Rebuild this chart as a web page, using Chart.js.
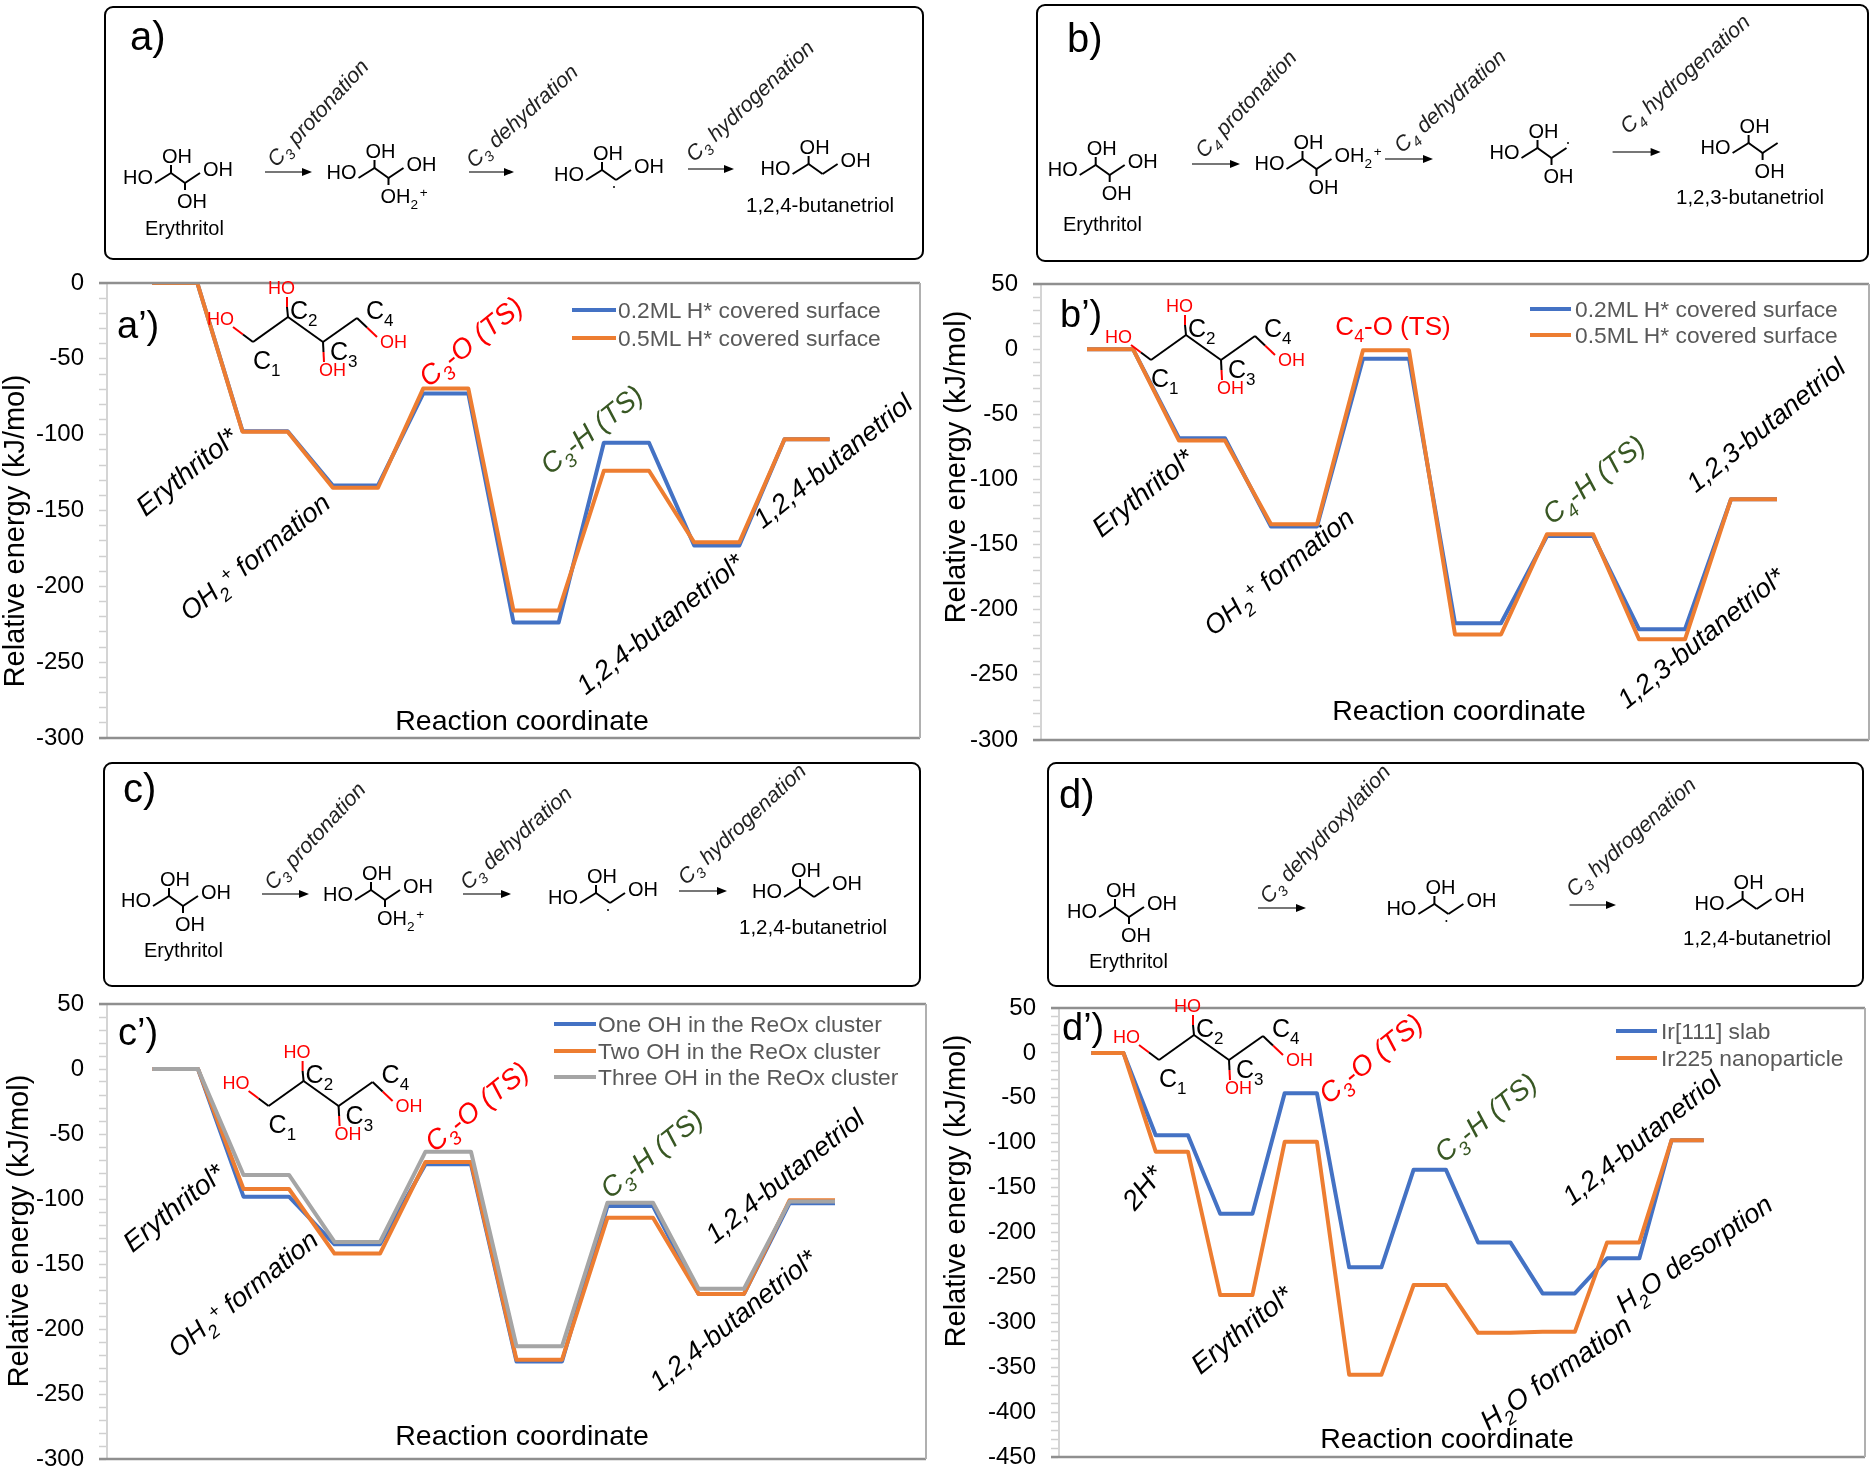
<!DOCTYPE html>
<html>
<head>
<meta charset="utf-8">
<title>Erythritol reaction energy profiles</title>
<script src="https://cdn.jsdelivr.net/npm/chart.js@4/dist/chart.umd.min.js"></script>
<style>
    html, body { margin: 0; padding: 0; background: #fff; }
    #page { position: relative; width: 1874px; height: 1472px; overflow: hidden; }
    canvas { position: absolute; }
    #overlay { position: absolute; left: 0; top: 0; }
    #overlay text { font-family: "Liberation Sans", Arial, sans-serif; }
</style>
</head>
<body>
<div id="page">
    <canvas id="chartA"></canvas>
    <canvas id="chartB"></canvas>
    <canvas id="chartC"></canvas>
    <canvas id="chartD"></canvas>
    <svg id="overlay" width="1874" height="1472" xmlns="http://www.w3.org/2000/svg"></svg>
</div>
<script>
// energy levels in kJ/mol, every level is drawn as a flat step
let stepsA = ['Erythritol', 'Erythritol*', 'OH2+ formation', 'C3-O (TS)', 'Dehydrated*', 'C3-H (TS)', '1,2,4-butanetriol*', '1,2,4-butanetriol'];
let a02ML = [0, -97.7, -133.5, -72.9, -223.8, -105.3, -173, -103];
let a05ML = [0, -98, -135, -69.6, -216, -123.8, -171, -103];
let legendA = ['0.2ML H* covered surface', '0.5ML H* covered surface'];

let stepsB = ['Erythritol', 'Erythritol*', 'OH2+ formation', 'C4-O (TS)', 'Dehydrated*', 'C4-H (TS)', '1,2,3-butanetriol*', '1,2,3-butanetriol'];
let b02ML = [0, -68.4, -136.2, -7.3, -210.4, -143.4, -215, -115.2];
let b05ML = [0, -70.2, -134.4, -0.9, -219, -142, -222.7, -115.2];
let legendB = ['0.2ML H* covered surface', '0.5ML H* covered surface'];

let stepsC = ['Erythritol', 'Erythritol*', 'OH2+ formation', 'C3-O (TS)', 'Dehydrated*', 'C3-H (TS)', '1,2,4-butanetriol*', '1,2,4-butanetriol'];
let cOneOH = [0, -98.2, -134.9, -73.3, -225, -105.4, -173, -103.3];
let cTwoOH = [0, -92.3, -142, -71.5, -223.6, -114.4, -173, -101];
let cThreeOH = [0, -81.5, -133, -63.6, -213.3, -102.8, -169, -102];
let legendC = ['One OH in the ReOx cluster', 'Two OH in the ReOx cluster', 'Three OH in the ReOx cluster'];

let stepsD = ['Erythritol', '2H*', 'Erythritol*', 'C3-O (TS)', 'Dehydrated*', 'C3-H (TS)', 'Hydrogenated*', 'H2O formation', 'H2O desorption', '1,2,4-butanetriol'];
let dSlab = [0, -91.6, -179, -44.8, -238.8, -130, -211, -267.8, -228.8, -97.2];
let dNano = [0, -110, -269.7, -99, -358.5, -258.5, -311.7, -310.6, -211, -97.2];
let legendD = ['Ir[111] slab', 'Ir225 nanoparticle'];

const BLUE = '#4472C4';
const ORANGE = '#ED7D31';
const GREY = '#A5A5A5';
const RED = '#ff0000';
const GREEN = '#385723';
const FONT = '"Liberation Sans", Arial, sans-serif';

// grey lines on the other sides of the plot, the left one is the axis border
const plotFrame = {
    id: 'plotFrame',
    afterDraw(chart) {
        let area = chart.chartArea;
        let ctx = chart.ctx;
        ctx.save();
        ctx.strokeStyle = '#8f8f8f';
        ctx.lineWidth = 2.5;
        ctx.beginPath();
        ctx.moveTo(area.left - 8, area.top);
        ctx.lineTo(area.right, area.top);
        ctx.moveTo(area.left - 8, area.bottom);
        ctx.lineTo(area.right, area.bottom);
        ctx.stroke();
        ctx.strokeStyle = '#b0b0b0';
        ctx.lineWidth = 2;
        ctx.beginPath();
        ctx.moveTo(area.right, area.top);
        ctx.lineTo(area.right, area.bottom);
        ctx.stroke();
        ctx.restore();
    }
};

function twice(list) {
    let out = [];
    list.forEach(v => out.push(v, v));
    return out;
}

function makeChart(id, box, steps, names, series, min, max, after) {
    // has to be bigger than the room the y scale asks for its first and last tick label
    let pad = 40;
    let shift = box.shift || 0;
    let canvas = document.getElementById(id);
    canvas.width = box.right - shift + 4;
    canvas.height = box.bottom - box.top + pad * 2;
    canvas.style.left = shift + 'px';
    canvas.style.top = (box.top - pad) + 'px';
    let blanks = new Array(after).fill('');
    let colors = [BLUE, ORANGE, GREY];
    let datasets = series.map((values, i) => ({
        label: names[i],
        data: [null].concat(twice(values), new Array(after).fill(null)),
        borderColor: colors[i],
        borderWidth: 4,
        borderJoinStyle: 'round',
        pointRadius: 0,
        tension: 0,
        order: series.length - i
    }));
    return new Chart(canvas, {
        type: 'line',
        data: { labels: [''].concat(twice(steps), blanks), datasets: datasets },
        options: {
            responsive: false,
            animation: false,
            layout: { padding: { top: pad, bottom: pad, right: 4 } },
            plugins: { legend: { display: false }, tooltip: { enabled: false } },
            scales: {
                x: { type: 'category', display: false },
                y: {
                    min: min,
                    max: max,
                    afterFit(scale) { scale.width = box.left - shift; },
                    border: { color: '#d4d4d4', width: 2 },
                    grid: { drawOnChartArea: false, tickLength: 8, tickWidth: 1.5, tickColor: '#d0d0d0' },
                    ticks: {
                        stepSize: 10,
                        autoSkip: false,
                        padding: 15,
                        color: '#000',
                        font: { family: FONT, size: 24 },
                        callback: v => (v % 50 === 0 ? String(v) : '')
                    }
                }
            }
        },
        plugins: [plotFrame]
    });
}

makeChart('chartA', { left: 107, right: 920, top: 283, bottom: 738 }, stepsA, legendA, [a02ML, a05ML], -300, 0, 2);
makeChart('chartB', { left: 1041, right: 1869, top: 284, bottom: 740, shift: 934 }, stepsB, legendB, [b02ML, b05ML], -300, 50, 2);
makeChart('chartC', { left: 107, right: 926, top: 1004, bottom: 1459 }, stepsC, legendC, [cOneOH, cTwoOH, cThreeOH], -300, 50, 2);
makeChart('chartD', { left: 1059, right: 1865, top: 1008, bottom: 1457, shift: 934 }, stepsD, legendD, [dSlab, dNano], -450, 50, 5);

//////////////////////text and schemes on top of the charts//////////////////////////

let svg = '';

// "_3" is a subscript and "^+" a superscript
function markup(str, size) {
    let d = Math.round(size * 0.28);
    return str.replace(/([_^])(\S)([^_^]*)/g, (m, kind, ch, rest) => {
        let dy = kind === '_' ? d : -d;
        return `<tspan dy="${dy}" font-size="${size * 0.68}">${ch}</tspan><tspan dy="${-dy}">${rest}</tspan>`;
    });
}

function text(x, y, str, size, opts) {
    let o = opts || {};
    let transform = o.rot ? ` transform="rotate(${o.rot} ${x} ${o.pivotY || y})"` : '';
    let style = o.italic ? ' font-style="italic"' : '';
    svg += `<text x="${x}" y="${y}" font-size="${size}" fill="${o.color || '#000'}" text-anchor="${o.anchor || 'start'}"${style}${transform}>${markup(str, size)}</text>`;
}

function line(x1, y1, x2, y2, color, width) {
    svg += `<line x1="${x1}" y1="${y1}" x2="${x2}" y2="${y2}" stroke="${color}" stroke-width="${width}"/>`;
}

function slanted(cx, cy, str, opts) {
    let o = opts || {};
    text(cx, cy + 9, str, o.size || 27, { rot: o.rot === undefined ? -39 : o.rot, pivotY: cy, italic: true, anchor: 'middle', color: o.color });
}

function box(x1, y1, x2, y2) {
    svg += `<rect x="${x1}" y="${y1}" width="${x2 - x1}" height="${y2 - y1}" rx="8" fill="none" stroke="#000" stroke-width="2"/>`;
}

function arrow(x1, x2, y) {
    line(x1, y, x2 - 8, y, '#777', 1.8);
    svg += `<polygon points="${x2},${y} ${x2 - 10},${y - 4} ${x2 - 10},${y + 4}" fill="#000"/>`;
}

function arrowLabel(cx, cy, str, rot) {
    text(cx, cy + 7, str, 21.5, { rot: rot, pivotY: cy, italic: true, anchor: 'middle', color: '#222' });
}

// small skeleton formula in the schemes, x y is the end of the chain next to HO
function formula(x, y, groups) {
    let pts = [[x, y], [x + 16, y - 10], [x + 30, y], [x + 45, y - 10]];
    pts.slice(1).forEach((p, i) => line(pts[i][0], pts[i][1], p[0], p[1], '#000', 2));
    text(x - 2, y + 1, 'HO', 20, { anchor: 'end' });
    line(x + 16, y - 10, x + 16, y - 18, '#000', 2);
    text(x + 7, y - 20, 'OH', 20);
    if (groups.right) {
        text(x + 48, y - 7, groups.right, 20);
    }
    if (groups.bottom) {
        line(x + 30, y, x + 30, y + 7, '#000', 2);
        text(x + 22, y + 25, groups.bottom, 20);
    }
    if (groups.dot) {
        svg += `<circle cx="${x + 28}" cy="${y + 7}" r="1" fill="#000"/>`;
    }
}

// bigger formula with the atom numbers inside the plots, x y is C1
function numbered(x, y) {
    line(x, y, x + 35, y - 25, '#000', 2);
    line(x + 35, y - 25, x + 70, y, '#000', 2);
    line(x + 70, y, x + 104, y - 24, '#000', 2);
    line(x - 20, y - 15, x - 10, y - 7.5, RED, 2);
    line(x - 10, y - 7.5, x, y, '#000', 2);
    line(x + 34, y - 45, x + 34, y - 35, RED, 2);
    line(x + 34, y - 35, x + 35, y - 25, '#000', 2);
    line(x + 71, y + 20, x + 70.5, y + 10, RED, 2);
    line(x + 70.5, y + 10, x + 70, y, '#000', 2);
    line(x + 124, y - 5, x + 114, y - 14.5, RED, 2);
    line(x + 114, y - 14.5, x + 104, y - 24, '#000', 2);
    text(x - 46, y - 17, 'HO', 18, { color: RED });
    text(x + 15, y - 48, 'HO', 18, { color: RED });
    text(x + 66, y + 34, 'OH', 18, { color: RED });
    text(x + 127, y + 6, 'OH', 18, { color: RED });
    text(x, y + 27, 'C_1', 25);
    text(x + 37, y - 23, 'C_2', 25);
    text(x + 77, y + 18, 'C_3', 25);
    text(x + 113, y - 23, 'C_4', 25);
}

function legend(x1, x2, textX, ys, names) {
    let colors = [BLUE, ORANGE, GREY];
    names.forEach((name, i) => {
        line(x1, ys[i], x2, ys[i], colors[i], 4);
        text(textX, ys[i] + 8, name, 22.8, { color: '#595959' });
    });
}

function axisTitle(x, cy) {
    text(x, cy, 'Relative energy (kJ/mol)', 29, { rot: -90, anchor: 'middle' });
}

// a)
box(105, 7, 923, 259);
text(130, 50, 'a)', 40);
formula(155, 183, { right: 'OH', bottom: 'OH' });
text(145, 235, 'Erythritol', 20);
arrow(265, 312, 172);
arrowLabel(318, 113, 'C_3 protonation', -47);
formula(358.5, 178, { right: 'OH', bottom: 'OH_2\u200a^+' });
arrow(469, 514, 172);
arrowLabel(522, 116, 'C_3 dehydration', -42);
formula(586, 180, { right: 'OH', dot: true });
arrow(688, 734, 169);
arrowLabel(750, 101, 'C_3 hydrogenation', -43);
formula(792.6, 174, { right: 'OH' });
text(746, 212, '1,2,4-butanetriol', 20.5);

// a')
text(117, 338, 'a’)', 38);
axisTitle(24, 531);
numbered(253, 342);
legend(572, 616, 618, [310, 338], legendA);
slanted(471, 342, 'C_3-O (TS)', { color: RED, size: 28 });
slanted(592, 430, 'C_3-H (TS)', { color: GREEN, size: 28 });
slanted(187, 472, 'Erythritol*', { size: 28 });
slanted(255, 557, 'OH_2\u200a^+ formation');
slanted(660, 624, '1,2,4-butanetriol*');
slanted(833, 461, '1,2,4-butanetriol');
text(522, 730, 'Reaction coordinate', 28.5, { anchor: 'middle' });

// b)
box(1037, 5, 1868, 261);
text(1067, 52, 'b)', 40);
formula(1079.7, 175, { right: 'OH', bottom: 'OH' });
text(1063, 231, 'Erythritol', 20);
arrow(1192, 1240, 164);
arrowLabel(1246, 104, 'C_4 protonation', -47);
formula(1286.5, 169, { right: 'OH_2\u200a^+', bottom: 'OH' });
arrow(1385, 1433, 159);
arrowLabel(1450, 101, 'C_4 dehydration', -42);
formula(1521.5, 158, { bottom: 'OH' });
svg += '<circle cx="1568" cy="143" r="1" fill="#000"/>';
arrow(1612.6, 1660.6, 152);
arrowLabel(1685, 74, 'C_4 hydrogenation', -42);
formula(1732.6, 153, { bottom: 'OH' });
text(1676, 204, '1,2,3-butanetriol', 20.5);

// b')
text(1060, 327, 'b’)', 38);
axisTitle(965, 467);
numbered(1151, 360);
legend(1530, 1571, 1575, [309, 335], legendB);
text(1393, 335, 'C_4-O (TS)', 26, { anchor: 'middle', color: RED });
slanted(1594, 480, 'C_4-H (TS)', { color: GREEN, size: 28 });
slanted(1143, 493, 'Erythritol*', { size: 28 });
slanted(1279, 572, 'OH_2\u200a^+ formation');
slanted(1766, 425, '1,2,3-butanetriol');
slanted(1701, 638, '1,2,3-butanetriol*');
text(1459, 720, 'Reaction coordinate', 28.5, { anchor: 'middle' });

// c)
box(104, 763, 920, 986);
text(123, 802, 'c)', 40);
formula(153, 906, { right: 'OH', bottom: 'OH' });
text(144, 957, 'Erythritol', 20);
arrow(262, 309, 894);
arrowLabel(315, 836, 'C_3 protonation', -47);
formula(355, 900, { right: 'OH', bottom: 'OH_2\u200a^+' });
arrow(463, 511, 894);
arrowLabel(516, 838, 'C_3 dehydration', -42);
formula(580, 903, { right: 'OH', dot: true });
arrow(679, 727, 891);
arrowLabel(742, 824, 'C_3 hydrogenation', -43);
formula(784, 897, { right: 'OH' });
text(739, 934, '1,2,4-butanetriol', 20.5);

// c')
text(118, 1045, 'c’)', 38);
axisTitle(28, 1231);
numbered(268.6, 1106);
legend(554, 596, 598, [1024, 1051, 1077], legendC);
slanted(477, 1107, 'C_3-O (TS)', { color: RED, size: 28 });
slanted(652, 1154, 'C_3-H (TS)', { color: GREEN, size: 28 });
slanted(174, 1208, 'Erythritol*', { size: 28 });
slanted(243, 1294, 'OH_2\u200a^+ formation');
slanted(785, 1176, '1,2,4-butanetriol');
slanted(733, 1320, '1,2,4-butanetriol*');
text(522, 1445, 'Reaction coordinate', 28.5, { anchor: 'middle' });

// d)
box(1048, 763, 1863, 986);
text(1059, 808, 'd)', 40);
formula(1099, 917, { right: 'OH', bottom: 'OH' });
text(1089, 968, 'Erythritol', 20);
arrow(1258, 1306, 908);
arrowLabel(1325, 834, 'C_3 dehydroxylation', -47);
formula(1418.4, 914, { right: 'OH', dot: true });
arrow(1569.5, 1616, 905);
arrowLabel(1631, 837, 'C_3 hydrogenation', -42);
formula(1726.6, 909, { right: 'OH' });
text(1683, 945, '1,2,4-butanetriol', 20.5);

// d')
text(1062, 1040, 'd’)', 38);
axisTitle(965, 1191);
numbered(1159, 1060);
legend(1616, 1657, 1661, [1031, 1058], legendD);
slanted(1371, 1059, 'C_3-O (TS)', { color: RED, size: 28 });
slanted(1486, 1118, 'C_3-H (TS)', { color: GREEN, size: 28 });
slanted(1143, 1188, '2H*', { rot: -50, size: 28 });
slanted(1242, 1330, 'Erythritol*', { size: 28 });
slanted(1642, 1138, '1,2,4-butanetriol');
slanted(1694, 1254, 'H_2O desorption', { rot: -35 });
slanted(1556, 1373, 'H_2O formation', { size: 28, rot: -35 });
text(1447, 1448, 'Reaction coordinate', 28.5, { anchor: 'middle' });

document.getElementById('overlay').innerHTML = svg;
</script>
</body>
</html>
